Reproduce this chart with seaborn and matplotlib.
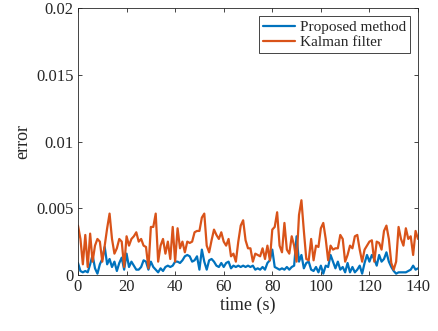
import numpy as np
import pandas as pd
import seaborn as sns
import matplotlib
matplotlib.use("Agg")
import matplotlib.pyplot as plt

time_s = list(range(0, 141))
# errors in units of 1e-4
proposed_e4 = [9, 3, 2, 3, 2, 8, 15, 5, 1, 8, 12, 21, 8, 12, 6, 10, 3, 9, 13, 4,
               16, 6, 10, 7, 4, 4, 6, 11, 10, 4, 10, 6, 4, 2, 5, 3, 6, 7, 6, 7,
               10, 10, 9, 11, 14, 15, 14, 10, 11, 14, 4, 19, 10, 4, 11, 12, 10, 7, 6, 9,
               6, 9, 10, 5, 7, 6, 7, 6, 7, 6, 7, 6, 7, 4, 5, 4, 6, 4, 9, 11,
               19, 6, 5, 4, 5, 4, 6, 4, 6, 7, 29, 10, 15, 5, 9, 10, 4, 3, 6, 2,
               7, 1, 7, 6, 15, 10, 5, 10, 4, 6, 2, 9, 2, 6, 2, 4, 7, 1, 9, 15,
               10, 15, 12, 7, 15, 10, 12, 17, 10, 6, 3, 1, 2, 2, 2, 2, 3, 4, 7, 4, 5]
kalman_e4 = [37, 27, 8, 30, 6, 31, 10, 22, 27, 25, 10, 22, 35, 46, 27, 16, 20, 27, 25, 6,
             29, 22, 27, 29, 32, 25, 27, 22, 21, 5, 36, 36, 46, 10, 22, 27, 16, 25, 12, 36,
             10, 35, 20, 25, 17, 25, 24, 25, 32, 33, 33, 43, 46, 22, 17, 26, 34, 30, 27, 32,
             25, 22, 27, 14, 16, 10, 25, 37, 41, 26, 20, 20, 10, 16, 15, 14, 20, 12, 22, 11,
             34, 36, 47, 22, 17, 39, 19, 16, 29, 22, 10, 45, 56, 33, 12, 11, 27, 11, 22, 21,
             35, 39, 27, 11, 22, 19, 20, 20, 30, 27, 10, 15, 22, 20, 29, 30, 19, 10, 19, 22,
             25, 26, 10, 25, 24, 19, 33, 37, 27, 9, 4, 10, 36, 27, 22, 35, 27, 29, 15, 33, 27]
series_names = ["Proposed method", "Kalman filter"]

df = pd.DataFrame({
    "time": time_s * 2,
    "error": [v * 1e-4 for v in proposed_e4] + [v * 1e-4 for v in kalman_e4],
    "method": [series_names[0]] * len(time_s) + [series_names[1]] * len(time_s),
})

sns.set_theme(style="ticks")
plt.rcParams["font.family"] = ["Liberation Serif", "DejaVu Serif"]
plt.rcParams["mathtext.fontset"] = "stix"

fig = plt.figure(figsize=(4.38, 3.31), dpi=100)
ax = fig.add_axes([78 / 438, 1 - 275 / 331, (418 - 78) / 438, (275 - 8) / 331])

sns.lineplot(data=df, x="time", y="error", hue="method",
             palette=["#0072BD", "#D95319"], linewidth=1.6, ax=ax)

ax.set_xlim(0, 140)
ax.set_ylim(0, 0.02)
ax.set_xticks(range(0, 141, 20))
ax.set_yticks([0, 0.005, 0.01, 0.015, 0.02])
ax.set_yticklabels(["0", "0.005", "0.01", "0.015", "0.02"])
ax.set_xlabel("time (s)", fontsize=13, color="#262626", labelpad=1)
ax.set_ylabel("error", fontsize=13, color="#262626", labelpad=4)
ax.tick_params(direction="in", length=3, width=0.6, top=True, right=True,
               labelsize=12, colors="#262626", pad=3)
for s in ax.spines.values():
    s.set_visible(True)
    s.set_linewidth(0.6)
    s.set_color("#262626")

leg = ax.legend(loc="upper right", fontsize=11, frameon=True, fancybox=False,
                edgecolor="#262626", framealpha=1, handlelength=2.1,
                borderpad=0.25, labelspacing=0.1, handletextpad=0.3,
                borderaxespad=0.55)
leg.get_frame().set_linewidth(0.6)
leg.set_title(None)

fig.savefig("out.png", dpi=100)
